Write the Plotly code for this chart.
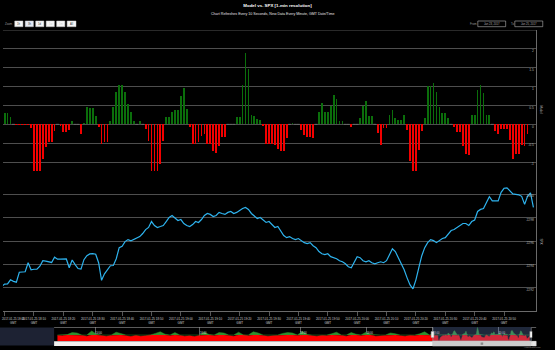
import numpy as np
import pandas as pd
import plotly.graph_objects as go

W, H = 555, 350

# ---------------------------------------------------------------- data
# Model signal, one column per minute from 18:00 to 20:58 GMT
model_signal = [
    0.31, 0.31, 0.20, 0.00, -0.02, -0.02, -0.02, -0.02, -0.02, -0.10,
    -1.36, -1.36, -1.52, -0.92, -0.60, -0.46, -0.46, -0.18, 0.00, -0.05,
    -0.20, -0.20, -0.14, 0.08, 0.00, 0.00, -0.25, 0.04, 0.47, 0.43,
    0.43, 0.21, -0.06, -0.52, -0.46, -0.46, 0.10, 0.47, 0.87, 1.04,
    1.04, 0.87, 0.54, 0.34, 0.08, 0.00, 0.09, 0.00, -0.13, -0.45,
    -1.34, -1.34, -1.34, -1.06, -0.44, 0.19, 0.19, 0.32, 0.39, 0.37,
    0.75, 0.96, 0.42, -0.07, -0.51, -0.51, -0.46, -0.30, -0.26, -0.51,
    -0.51, -0.70, -0.75, -0.57, -0.33, -0.33, 0.00, 0.00, 0.00, 0.19,
    0.19, 1.04, 1.88, 1.46, 0.24, 0.23, 0.15, 0.12, -0.04, -0.51,
    -0.51, -0.51, -0.55, -0.64, -0.71, -0.71, -0.36, 0.00, 0.04, 0.00,
    0.00, -0.16, -0.29, -0.33, -0.33, -0.35, 0.00, 0.32, 0.56, 0.32,
    0.32, 0.49, 0.79, 0.66, 0.09, 0.09, 0.00, 0.00, -0.07, 0.00,
    0.00, 0.18, 0.49, 0.61, 0.21, 0.21, 0.00, -0.23, -0.55, -0.09,
    -0.09, 0.24, 0.37, 0.18, 0.12, 0.12, 0.24, -0.16, -0.96, -1.45,
    -1.45, -0.67, -0.18, 0.18, 1.02, 1.02, 1.10, 0.87, 0.47, 0.31,
    0.31, 0.16, 0.00, -0.07, -0.20, -0.20, -0.56, -0.79, -0.82, 0.26,
    0.26, 0.92, 1.05, 0.82, 0.26, 0.26, 0.00, -0.18, -0.26, -0.12,
    -0.12, -0.12, -0.42, -0.93, -0.79, -0.79, -0.54, -0.56, -0.25,
]

# SPX index, one point per minute from 17:59 GMT
spx = [
    2292.09, 2292.30, 2292.33, 2292.67, 2292.54, 2292.47, 2293.32, 2293.34, 2293.36, 2294.14,
    2293.53, 2293.58, 2293.59, 2293.84, 2294.31, 2294.27, 2294.20, 2294.16, 2294.61, 2294.44,
    2294.44, 2294.46, 2294.46, 2293.71, 2294.37, 2293.97, 2293.64, 2293.59, 2294.40, 2294.74,
    2294.89, 2294.91, 2294.87, 2294.14, 2292.63, 2293.19, 2293.58, 2293.88, 2293.90, 2294.48,
    2295.43, 2295.54, 2295.95, 2296.12, 2296.02, 2296.16, 2296.23, 2296.38, 2296.64, 2296.98,
    2297.16, 2297.67, 2297.33, 2297.16, 2297.24, 2297.33, 2297.67, 2298.02, 2298.19, 2297.93,
    2297.76, 2297.84, 2297.50, 2297.33, 2297.24, 2297.41, 2297.67, 2297.59, 2297.84, 2298.19,
    2298.36, 2298.28, 2298.10, 2298.19, 2298.45, 2298.36, 2298.28, 2298.45, 2298.53, 2298.36,
    2298.45, 2298.62, 2298.79, 2298.88, 2298.71, 2298.36, 2298.10, 2297.93, 2298.02, 2297.76,
    2297.59, 2297.67, 2297.41, 2297.16, 2297.24, 2296.90, 2296.47, 2296.29, 2296.38, 2296.21,
    2296.12, 2296.21, 2296.03, 2295.86, 2295.78, 2295.86, 2295.60, 2295.43, 2295.09, 2294.91,
    2294.83, 2294.91, 2294.66, 2294.57, 2294.48, 2294.31, 2294.22, 2294.05, 2293.79, 2293.71,
    2294.22, 2294.66, 2294.57, 2294.31, 2294.22, 2294.31, 2294.14, 2294.05, 2294.14, 2294.22,
    2294.14, 2294.31, 2294.83, 2295.34, 2295.09, 2294.57, 2294.14, 2293.53, 2292.84, 2292.24,
    2291.90, 2292.67, 2293.71, 2294.74, 2295.43, 2295.86, 2296.12, 2296.03, 2295.86, 2296.03,
    2296.21, 2296.29, 2296.64, 2296.90, 2296.98, 2297.16, 2297.33, 2297.50, 2297.50, 2297.33,
    2297.67, 2297.80, 2298.53, 2298.71, 2298.79, 2299.31, 2299.80, 2299.44, 2299.44, 2299.44,
    2300.17, 2300.52, 2300.56, 2300.26, 2300.04, 2300.00, 2299.96, 2299.83, 2299.14, 2299.83,
    2300.13, 2298.88,
]

# Earlier model history shown in the navigator strip (9-minute samples)
nav_history = [
    -0.1, -0.2, 0.1, 0.6, 0.5, -0.1, -0.3, 1.0, 0.2, -0.2,
    -0.3, -0.1, 0.7, 0.3, -0.2, -0.4, -0.1, -0.3, -0.2, 0.0,
    0.4, 0.8, 0.2, -0.2, 0.6, -0.1, -0.3, -0.2, -0.4, -0.1,
    0.7, 0.1, -0.2, 0.6, 0.5, -0.1, -0.3, 0.7, 0.0, -0.2,
    0.8, 0.5, -0.1, -0.3, -0.2, -0.1, 0.4, 0.6, 0.5, -0.1,
    0.9, 0.1, -0.2, -0.3, -0.1, -0.2, 0.3, 0.7, -0.1, -0.3,
    0.6, 0.2, -0.2, 0.7, 0.1, -0.3, -0.2, -0.1, 0.5, 0.3,
    -0.2, -0.3, -0.1, -0.2, 0.3, 0.8, -0.1,
]

model_ticks = [-1.5, -1, -0.5, 0, 0.5, 1, 1.5, 2, 2.5]
model_tick_text = ["-1.5", "-1", "-0.5", "0", "0.5", "1", "1.5", "2", ""]
spx_ticks = [2290, 2292, 2294, 2296, 2298, 2300, 2302]
spx_tick_text = ["2290", "2292", "2294", "2296", "2298", "2300", ""]
time_ticks = ["18:00", "18:10", "18:20", "18:30", "18:40", "18:50", "19:00", "19:10",
              "19:20", "19:30", "19:40", "19:50", "20:00", "20:10", "20:20",
              "20:30", "20:40", "20:50", "21:00"]
nav_tick_minutes = [-620, -428, -244, -122, 0, 121]
nav_tick_text = ["14:00", "16:00", "18:00", "16:00", "18:00", "20:00"]
range_buttons = ["1h", "3h", "1d", "1w", "1m", "All"]
selected_button = 1
disabled_buttons = [3, 4]
date_from, date_to = "Jan 23, 2017", "Jan 25, 2017"

DAY = "2017-01-25"

# ---------------------------------------------------------------- helpers
def px(x):
    return x / W


def py(y):
    return 1 - y / H


FONT = "Liberation Sans, Arial, sans-serif"
GRID = "#4e4e4e"
AXIS = "#6a6a6a"
GREEN = "#0b6e0b"
RED = "#f20000"
BLUE = "#2eb3ee"
EPS = 1e-3

bar_times = pd.date_range(f"{DAY} 18:00", periods=len(model_signal), freq="min")
line_times = pd.date_range(f"{DAY} 17:59", periods=len(spx), freq="min")
sig = np.array(model_signal)
bar_colors = np.where(sig > 0, GREEN, np.where(sig < 0, RED, "#555555"))

fig = go.Figure()

# model columns
fig.add_trace(go.Bar(
    x=bar_times, y=sig, marker=dict(color=bar_colors, line=dict(width=0)),
    width=36000, xaxis="x", yaxis="y", hoverinfo="skip"))

# flat (zero) minutes drawn as short stubs on the zero line
zero_mask = sig == 0
fig.add_trace(go.Scatter(
    x=bar_times[zero_mask], y=sig[zero_mask], mode="markers",
    marker=dict(symbol="line-ew", size=2, line=dict(color="#6a6a6a", width=1)),
    xaxis="x", yaxis="y", hoverinfo="skip"))

# SPX line
fig.add_trace(go.Scatter(
    x=line_times, y=spx, mode="lines", line=dict(color=BLUE, width=1.2),
    xaxis="x", yaxis="y2", hoverinfo="skip"))

# navigator: history + visible window, red below zero, green above
hist_minutes = -690 + 9 * np.arange(len(nav_history))
nav_x = np.concatenate([hist_minutes, np.arange(len(model_signal))])
nav_v = np.concatenate([np.array(nav_history), sig])
nav_floor = model_ticks[0]
fig.add_trace(go.Scatter(
    x=nav_x, y=np.full(len(nav_x), nav_floor), mode="lines",
    line=dict(width=0, color=RED), xaxis="x2", yaxis="y3", hoverinfo="skip"))
fig.add_trace(go.Scatter(
    x=nav_x, y=np.minimum(nav_v, 0), mode="lines", fill="tonexty",
    fillcolor="#ff0000", line=dict(width=0.5, color="#ff0000"),
    xaxis="x2", yaxis="y3", hoverinfo="skip"))
fig.add_trace(go.Scatter(
    x=nav_x, y=np.maximum(nav_v, 0), mode="lines", fill="tozeroy",
    fillcolor="#2f8f2f", line=dict(width=0.5, color="#2f8f2f"),
    xaxis="x2", yaxis="y3", hoverinfo="skip"))

x_start = pd.Timestamp(f"{DAY} 17:59:26")
x_end = pd.Timestamp(f"{DAY} 21:00:56")
sel0, sel1 = -0.57, 180.94
nav_lo, nav_hi = -696.1, 182.7

tick_font = dict(family=FONT, size=3.3, color="#b0b0b0")

fig.update_layout(
    width=W, height=H,
    margin=dict(l=0, r=0, t=0, b=0),
    paper_bgcolor="#000000", plot_bgcolor="#000000",
    showlegend=False, hovermode=False, bargap=0,
    font=dict(family=FONT, color="#dddddd"),
    title=dict(text="<b>Model vs. SPX [1-min resolution]</b>", x=0.5, xanchor="center",
               y=py(5.6), yanchor="middle",
               font=dict(family=FONT, size=4.4, color="#ffffff")),
    xaxis=dict(
        domain=[px(3), px(545)], anchor="y2", type="date",
        range=[x_start, x_end],
        tickvals=[pd.Timestamp(f"{DAY} {t}") for t in time_ticks],
        # the first label is placed separately so it stays inside the page
        ticktext=[""] + [f"{DAY} {t}<br>GMT" for t in time_ticks[1:]],
        ticks="outside", ticklen=4, tickwidth=0.8, tickcolor=AXIS,
        showline=True, linecolor=AXIS, linewidth=1,
        showgrid=False, zeroline=False,
        tickfont=dict(family=FONT, size=3, color="#cfcfcf"),
    ),
    yaxis=dict(
        domain=[py(181), py(30)], anchor="x", side="right",
        range=[model_ticks[0] - EPS, model_ticks[-1] + EPS],
        tickvals=model_ticks, ticktext=model_tick_text,
        ticklabelposition="inside", ticklabelshift=2, ticks="",
        showgrid=True, gridcolor=GRID, gridwidth=1, zeroline=False,
        showline=True, linecolor=AXIS, linewidth=1, tickfont=tick_font,
    ),
    yaxis2=dict(
        domain=[py(311), py(171)], anchor="x", side="right",
        range=[spx_ticks[0] - EPS, spx_ticks[-1] + EPS],
        tickvals=spx_ticks, ticktext=spx_tick_text,
        ticklabelposition="inside", ticklabelshift=2, ticks="",
        showgrid=True, gridcolor=GRID, gridwidth=1, zeroline=False,
        showline=True, linecolor=AXIS, linewidth=1, tickfont=tick_font,
    ),
    xaxis2=dict(
        domain=[px(55), px(541)], anchor="y3", range=[nav_lo, nav_hi],
        tickvals=nav_tick_minutes, ticktext=nav_tick_text,
        ticklabelposition="inside right", ticks="",
        showgrid=True, gridcolor="#777777", gridwidth=0.8, zeroline=False,
        showline=False, tickfont=dict(family=FONT, size=2.6, color="#dddddd"),
    ),
    yaxis3=dict(
        domain=[py(341), py(327)], anchor="x2", range=[nav_floor, 2.0],
        showgrid=False, zeroline=False, showticklabels=False, ticks="",
    ),
)

shapes = []
annotations = []

# top grid lines of both panes (at the edge of each axis range)
for yref, yval in (("y", model_ticks[-1]), ("y2", spx_ticks[-1])):
    shapes.append(dict(type="line", xref="paper", yref=yref, x0=px(3), x1=px(545),
                       y0=yval, y1=yval, line=dict(color=GRID, width=1), layer="below"))

# subtitle
annotations.append(dict(
    text="Chart Refreshes Every 10 Seconds, New Data Every Minute, GMT Date/Time",
    x=px(277), y=py(14), xref="paper", yref="paper", showarrow=False,
    xanchor="center", yanchor="middle",
    font=dict(family=FONT, size=3.6, color="#e6e6e6")))

# range selector
annotations.append(dict(text="Zoom", x=px(3.3), y=py(23.9), xref="paper", yref="paper",
                        showarrow=False, xanchor="left", yanchor="middle",
                        font=dict(family=FONT, size=2.8, color="#9a9a9a")))
btn_left, btn_w, btn_step = 15.0, 8.3, 10.65
for i, label in enumerate(range_buttons):
    x0 = btn_left + i * btn_step
    x1 = x0 + btn_w + (0.7 if label == "All" else 0)
    fill = "#e6ebf5" if i == selected_button else "#f7f7f7"
    shapes.append(dict(type="rect", xref="paper", yref="paper",
                       x0=px(x0), x1=px(x1), y0=py(26.7), y1=py(21),
                       fillcolor=fill, line=dict(color="#cccccc", width=0.5)))
    color = "#cccccc" if i in disabled_buttons else "#333333"
    annotations.append(dict(text=label, x=px((x0 + x1) / 2), y=py(23.9),
                            xref="paper", yref="paper", showarrow=False,
                            xanchor="center", yanchor="middle",
                            font=dict(family=FONT, size=2.7, color=color)))

# date inputs
for label, lx, bx0, bx1, val in [("From", 476.0, 485.7, 514.0, date_from),
                                 ("To", 517.3, 523.3, 551.7, date_to)]:
    annotations.append(dict(text=label, x=px(lx), y=py(23.9), xref="paper", yref="paper",
                            showarrow=False, xanchor="left", yanchor="middle",
                            font=dict(family=FONT, size=2.8, color="#9a9a9a")))
    shapes.append(dict(type="rect", xref="paper", yref="paper",
                       x0=px(bx0), x1=px(bx1), y0=py(26.7), y1=py(21),
                       fillcolor="#000000", line=dict(color="#b5b5b5", width=0.6)))
    annotations.append(dict(text=val, x=px((bx0 + bx1) / 2), y=py(23.9),
                            xref="paper", yref="paper", showarrow=False,
                            xanchor="center", yanchor="middle",
                            font=dict(family=FONT, size=2.7, color="#aaaaaa")))

# axis titles
annotations.append(dict(text="Model", x=px(549.5), y=py(110), xref="paper", yref="paper",
                        showarrow=False, textangle=90, xanchor="center", yanchor="middle",
                        font=dict(family=FONT, size=3, color="#bbbbbb")))
annotations.append(dict(text="SPX", x=px(549.5), y=py(241), xref="paper", yref="paper",
                        showarrow=False, textangle=90, xanchor="center", yanchor="middle",
                        font=dict(family=FONT, size=3, color="#bbbbbb")))

# first time label, kept inside the chart edge
annotations.append(dict(text=f"{DAY} {time_ticks[0]}<br>GMT", x=px(0), y=py(314.8),
                        xref="paper", yref="paper", showarrow=False,
                        xanchor="left", yanchor="top", align="center",
                        font=dict(family=FONT, size=2.85, color="#cfcfcf")))

# navigator: picture panel at the far left
shapes.append(dict(type="rect", xref="paper", yref="paper",
                   x0=px(0), x1=px(55), y0=py(345.5), y1=py(327.5),
                   fillcolor="#1d2233", line=dict(width=0), layer="below"))

# selected window mask
shapes.append(dict(type="rect", xref="x2", yref="paper", x0=sel0, x1=sel1,
                   y0=py(341), y1=py(327), fillcolor="rgba(102,133,194,0.3)",
                   line=dict(width=0)))
# outline
shapes.append(dict(type="path", xref="paper", yref="paper",
                   path=(f"M {px(55)} {py(327.5)} L {px(440)} {py(327.5)} "
                         f"L {px(440)} {py(341)} L {px(540)} {py(341)} "
                         f"L {px(540)} {py(327.5)} L {px(545)} {py(327.5)}"),
                   line=dict(color="#999999", width=0.6)))
# handles
for hx in (sel0, sel1):
    shapes.append(dict(type="rect", xref="x2", yref="paper", xsizemode="pixel",
                       xanchor=hx, x0=-1.4, x1=1.4, y0=py(337.5), y1=py(331.5),
                       fillcolor="#f2f2f2", line=dict(color="#999999", width=0.5)))

# scrollbar
shapes.append(dict(type="rect", xref="paper", yref="paper",
                   x0=px(55), x1=px(545), y0=py(346), y1=py(341.3),
                   fillcolor="#f2f2f2", line=dict(width=0)))
shapes.append(dict(type="rect", xref="x2", yref="paper", x0=sel0, x1=sel1,
                   y0=py(346), y1=py(341.3), fillcolor="#cccccc",
                   line=dict(color="#cccccc", width=0.5)))
for off in (-0.8, 0, 0.8):
    shapes.append(dict(type="line", xref="x2", yref="paper", xsizemode="pixel",
                       xanchor=(sel0 + sel1) / 2, x0=off, x1=off,
                       y0=py(344.8), y1=py(342.5), line=dict(color="#333333", width=0.4)))
shapes.append(dict(type="rect", xref="paper", yref="paper",
                   x0=px(541), x1=px(545), y0=py(346), y1=py(341.3),
                   fillcolor="#e6e6e6", line=dict(color="#cccccc", width=0.4)))

# credits
annotations.append(dict(text="Highcharts.com", x=px(552), y=py(347.6), xref="paper",
                        yref="paper", showarrow=False, xanchor="right", yanchor="middle",
                        font=dict(family=FONT, size=2.4, color="#909090")))

fig.update_layout(shapes=shapes, annotations=annotations)

fig.write_html("out.html", config={"displayModeBar": False, "staticPlot": True})
